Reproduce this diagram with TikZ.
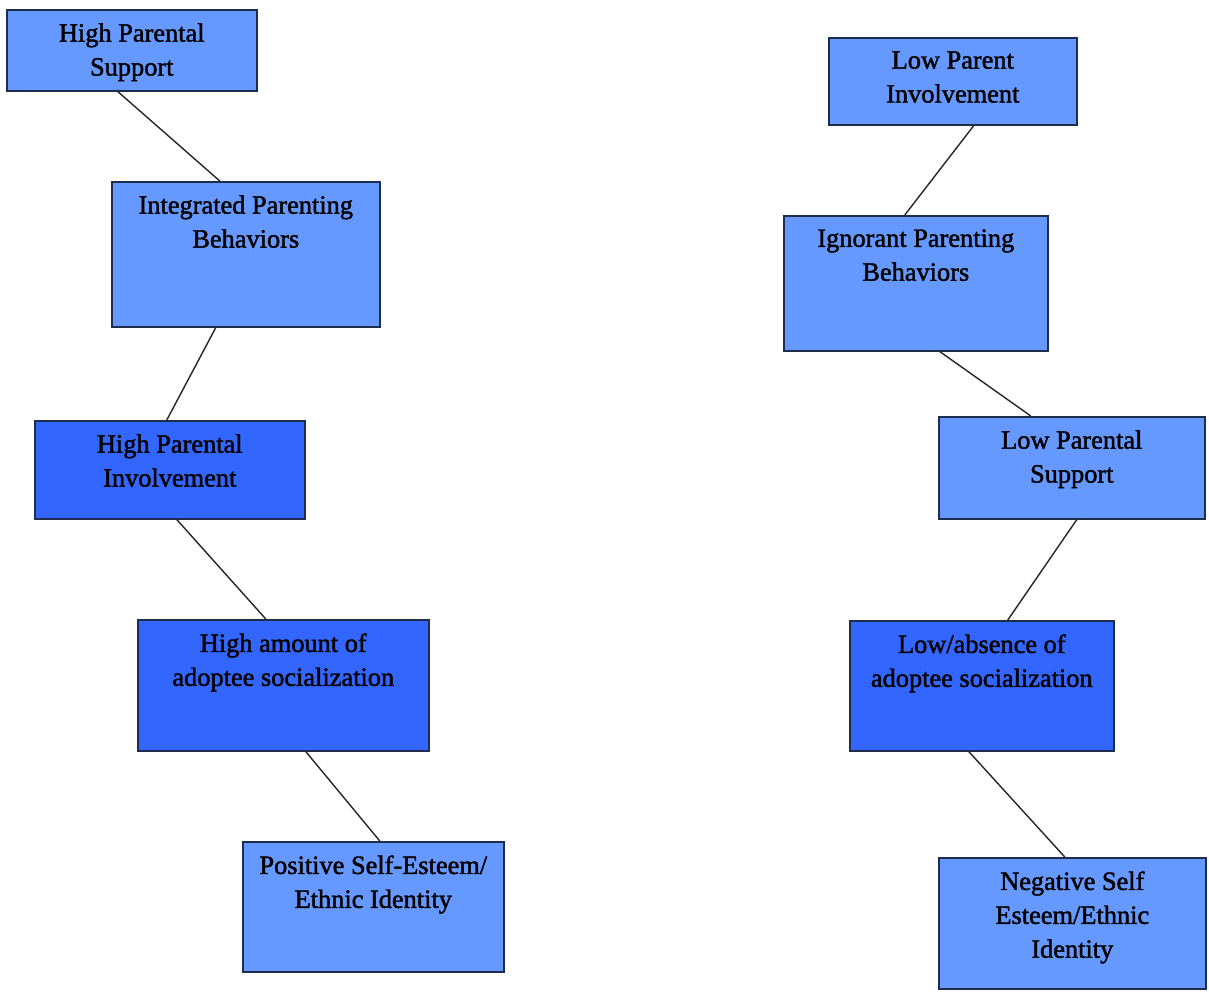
\documentclass[tikz,border=0pt]{standalone}
\usepackage{fontspec}
\setmainfont{Liberation Serif}[BoldFont={Liberation Serif}, BoldFeatures={FakeBold=1.6}]
\usepackage{xcolor}
\definecolor{lightblue}{HTML}{6699FF}
\definecolor{darkblue}{HTML}{3366FF}
\definecolor{edge}{HTML}{1F2D4D}
\usepackage{tikz}
\tikzset{
  lightbox/.style={draw=edge, line width=0.9pt, fill=lightblue, inner sep=0pt, anchor=north west},
  darkbox/.style={draw=edge, line width=0.9pt, fill=darkblue, inner sep=0pt, anchor=north west},
  lbl/.style={align=center, inner sep=0pt, font=\fontsize{15}{19.3}\selectfont\bfseries},
  link/.style={draw=black!85, line width=0.8pt}
}
\newcommand{\pbox}[7]{
\node[#6, minimum width=#4*0.02cm, minimum height=#5*0.02cm] (#1) at (#2,#3) {};
\node[lbl, anchor=north] (#1t) at ([shift={(0,14)}]#1.north) {#7};
}

\begin{document}
\begin{tikzpicture}[x=0.02cm, y=-0.02cm]
\useasboundingbox (0,0) rectangle (1209,993);

% left chain
\pbox{hps}{6}{9}{250}{81}{lightbox}{High Parental\\Support}
\pbox{ipb}{111}{181}{268}{145}{lightbox}{Integrated Parenting\\Behaviors}
\pbox{hpi}{34}{420}{270}{98}{darkbox}{High Parental\\Involvement}
\pbox{hasoc}{137}{619}{291}{131}{darkbox}{High amount of\\adoptee socialization}
\pbox{pse}{242}{841}{261}{130}{lightbox}{Positive Self-Esteem/\\Ethnic Identity}

% right chain
\pbox{lpi}{828}{37}{248}{87}{lightbox}{Low Parent\\Involvement}
\pbox{ignp}{783}{215}{264}{135}{lightbox}{Ignorant Parenting\\Behaviors}
\pbox{lps}{938}{416}{266}{102}{lightbox}{Low Parental\\Support}
\pbox{lasoc}{849}{620}{264}{130}{darkbox}{Low/absence of\\adoptee socialization}
\pbox{nse}{938}{857}{267}{131}{lightbox}{Negative Self\\Esteem/Ethnic\\Identity}

\draw[link] ([shift={(-14,0)}]hps.south) -- ([shift={(-26,0)}]ipb.north);
\draw[link] ([shift={(-30,0)}]ipb.south) -- ([shift={(-3,0)}]hpi.north);
\draw[link] ([shift={(7,0)}]hpi.south) -- ([shift={(-17.5,0)}]hasoc.north);
\draw[link] ([shift={(22.5,0)}]hasoc.south) -- ([shift={(6.5,0)}]pse.north);

\draw[link] ([shift={(21,0)}]lpi.south) -- ([shift={(-11,0)}]ignp.north);
\draw[link] ([shift={(24,0)}]ignp.south) -- ([shift={(-41,0)}]lps.north);
\draw[link] ([shift={(5,0)}]lps.south) -- ([shift={(26,0)}]lasoc.north);
\draw[link] ([shift={(-13,0)}]lasoc.south) -- ([shift={(-7.5,0)}]nse.north);

\end{tikzpicture}
\end{document}
